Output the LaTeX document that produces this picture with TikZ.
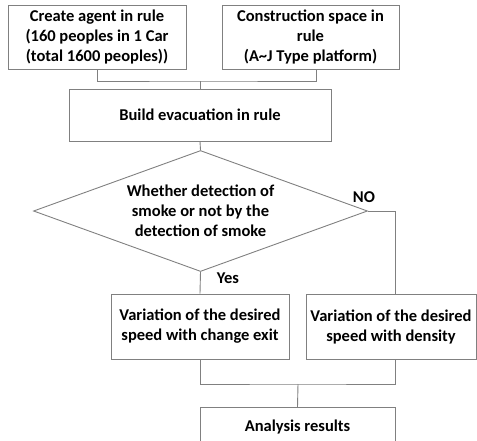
\documentclass[tikz,border=0pt]{standalone}
\usepackage{fontspec}
\setmainfont{Carlito}
\usetikzlibrary{shapes.geometric,calc}
\definecolor{edge}{RGB}{128,128,128}
\tikzset{
  box/.style={draw=edge, line width=0.9pt, rectangle, inner sep=0pt, align=center, font=\bfseries\fontsize{16.5}{20}\selectfont},
  dec/.style={draw=edge, line width=0.9pt, diamond, inner sep=0pt, minimum width=334pt, minimum height=121pt},
  dectext/.style={inner sep=0pt, align=center, font=\bfseries\fontsize{16.5}{20}\selectfont},
  conn/.style={draw=edge, line width=0.9pt},
  lab/.style={font=\bfseries\fontsize{16.5}{18}\selectfont, inner sep=0pt}
}
\begin{document}
\begin{tikzpicture}[x=1pt,y=-1pt]
\useasboundingbox (0,0) rectangle (477,440);
\clip (0,0) rectangle (477,440);
\node[box, minimum width=178pt, minimum height=64pt] (b1) at (97,37) {Create agent in rule\\(160 peoples in 1 Car\\(total 1600 peoples))};
\node[box, minimum width=177pt, minimum height=64pt] (b2) at (310.5,37) {Construction space in\\rule\\(A\textasciitilde J Type platform)};
\node[box, minimum width=262pt, minimum height=52pt] (b3) at (200,115) {Build evacuation in rule};
\node[dec] (d) at (200.5,211) {};
\node[dectext] (dt) at (200.5,211) {Whether detection of\\smoke or not by the\\detection of smoke};
\node[box, minimum width=178pt, minimum height=65pt] (b4) at (200,326.5) {Variation of the desired\\speed with change exit};
\node[box, minimum width=170pt, minimum height=65pt] (b5) at (391,326.5) {Variation of the desired\\speed with density};
\node[box, minimum width=195pt, minimum height=40pt, anchor=north] (b6) at (297.5,407) {Analysis results};
\coordinate (j1) at (200,81);
\coordinate (j2) at (298,384);
\draw[conn] (b1.south) |- (j1) -| ([xshift=5.5pt]b2.south);
\draw[conn] (j1) -- (b3.north);
\draw[conn] (b3.south) -- (d.north);
\draw[conn] (d.south) -- (b4.north);
\draw[conn] (d.east) -| ([xshift=4pt]b5.north);
\draw[conn] (b4.south) |- (j2) -| ([xshift=4pt]b5.south);
\draw[conn] (j2) -- (b6.north);
\node[lab] (no) at (364,197) {NO};
\node[lab] (yes) at (228,278) {Yes};
\end{tikzpicture}
\end{document}
